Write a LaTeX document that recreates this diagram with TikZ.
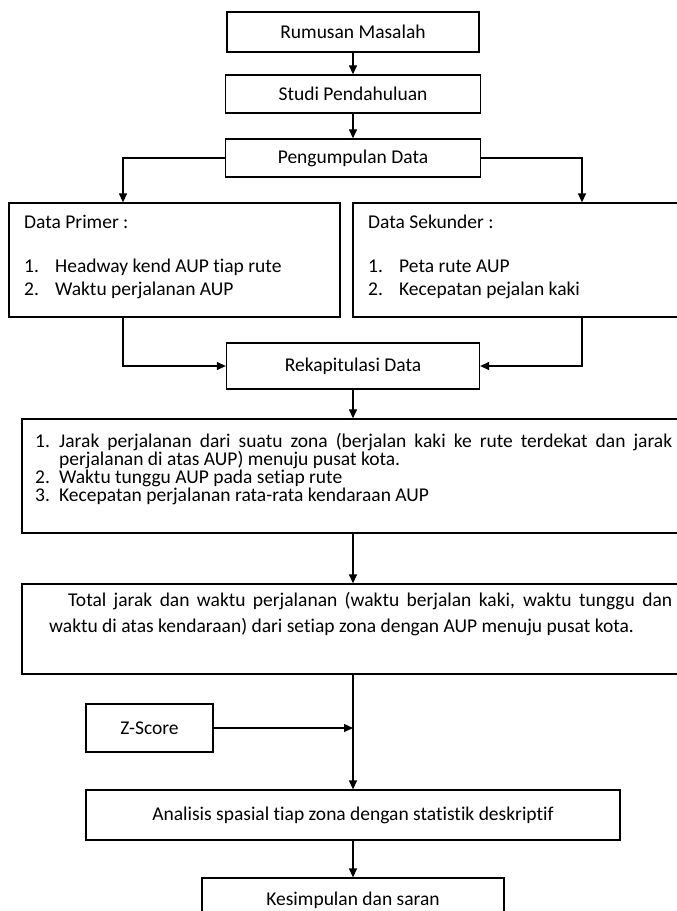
\documentclass[tikz,border=0pt]{standalone}
\usepackage{fontspec}
\setmainfont{Carlito}[Ligatures={NoCommon}]
\usetikzlibrary{arrows.meta}
\begin{document}
\begin{tikzpicture}[x=1pt,y=-1pt,
  box/.style={draw, line width=1.3pt, inner sep=0pt, font=\fontsize{19.5}{23}\selectfont},
  txt/.style={inner sep=0pt, anchor=base west, font=\fontsize{19.5}{23}\selectfont},
  arr/.style={-{Triangle[length=9pt,width=8pt]}, line width=1.3pt}]
\useasboundingbox (0,0) rectangle (677,911);
\coordinate (xl) at (123,0);
\coordinate (xr) at (582,0);
\coordinate (xm) at (353,0);
% boxes
\node[box, minimum width=252pt, minimum height=40pt] (rum) at (353,32) {Rumusan Masalah};
\node[box, minimum width=255pt, minimum height=38pt] (stu) at (353,94) {Studi Pendahuluan};
\node[box, minimum width=255pt, minimum height=38pt] (pen) at (353,158) {Pengumpulan Data};
\node[box, minimum width=331pt, minimum height=114pt] (pri) at (174.5,260) {};
\node[box, minimum width=326pt, minimum height=114pt] (sek) at (516,260) {};
\node[box, minimum width=253pt, minimum height=46pt] (rek) at (353,366) {Rekapitulasi Data};
\node[box, minimum width=657pt, minimum height=114pt] (jar) at (350.5,476) {};
\node[box, minimum width=657pt, minimum height=90pt] (tot) at (350.5,629) {};
\node[box, minimum width=127pt, minimum height=48pt] (zsc) at (149.5,728) {Z-Score};
\node[box, minimum width=534pt, minimum height=50pt] (ana) at (353,815) {Analisis spasial tiap zona dengan statistik deskriptif};
\node[box, minimum width=302pt, minimum height=44pt] (kes) at (353,900) {Kesimpulan dan saran};
% texts of Data Primer
\node[txt] (pri1) at (24,228.5) {Data Primer :};
\node[txt] (pri2) at (24,272.5) {\makebox[31pt][l]{1.}Headway kend AUP tiap rute};
\node[txt] (pri3) at (24,295.5) {\makebox[31pt][l]{2.}Waktu perjalanan AUP};
% texts of Data Sekunder
\node[txt] (sek1) at (368,228.5) {Data Sekunder :};
\node[txt] (sek2) at (368,272.5) {\makebox[31pt][l]{1.}Peta rute AUP};
\node[txt] (sek3) at (368,295.5) {\makebox[31pt][l]{2.}Kecepatan pejalan kaki};
% texts of list box
\node[txt] (jar1) at (35,447) {\makebox[24pt][l]{1.}\makebox[613pt][s]{Jarak perjalanan dari suatu zona (berjalan kaki ke rute terdekat dan jarak}};
\node[txt] (jar2) at (59,465) {perjalanan di atas AUP) menuju pusat kota.};
\node[txt] (jar3) at (35,483) {\makebox[24pt][l]{2.}Waktu tunggu AUP pada setiap rute};
\node[txt] (jar4) at (35,501) {\makebox[24pt][l]{3.}Kecepatan perjalanan rata-rata kendaraan AUP};
% texts of total box
\node[txt] (tot1) at (68,606.5) {\makebox[604pt][s]{Total jarak dan waktu perjalanan (waktu berjalan kaki, waktu tunggu dan}};
\node[txt] (tot2) at (49,632) {waktu di atas kendaraan) dari setiap zona dengan AUP menuju pusat kota.};
% connectors
\draw[arr] (rum) -- (stu);
\draw[arr] (stu) -- (pen);
\draw[arr] (pen.west) -| (xl |- pri.north);
\draw[arr] (pen.east) -| (xr |- sek.north);
\draw[arr] (xl |- pri.south) |- (rek.west);
\draw[arr] (xr |- sek.south) |- (rek.east);
\draw[arr] (rek.south) -- (xm |- jar.north);
\draw[arr] (xm |- jar.south) -- (xm |- tot.north);
\draw[arr] (xm |- tot.south) -- (ana.north);
\draw[arr] (zsc.east) -- (xm |- zsc.east);
\draw[arr] (ana) -- (kes);
\end{tikzpicture}
\end{document}
